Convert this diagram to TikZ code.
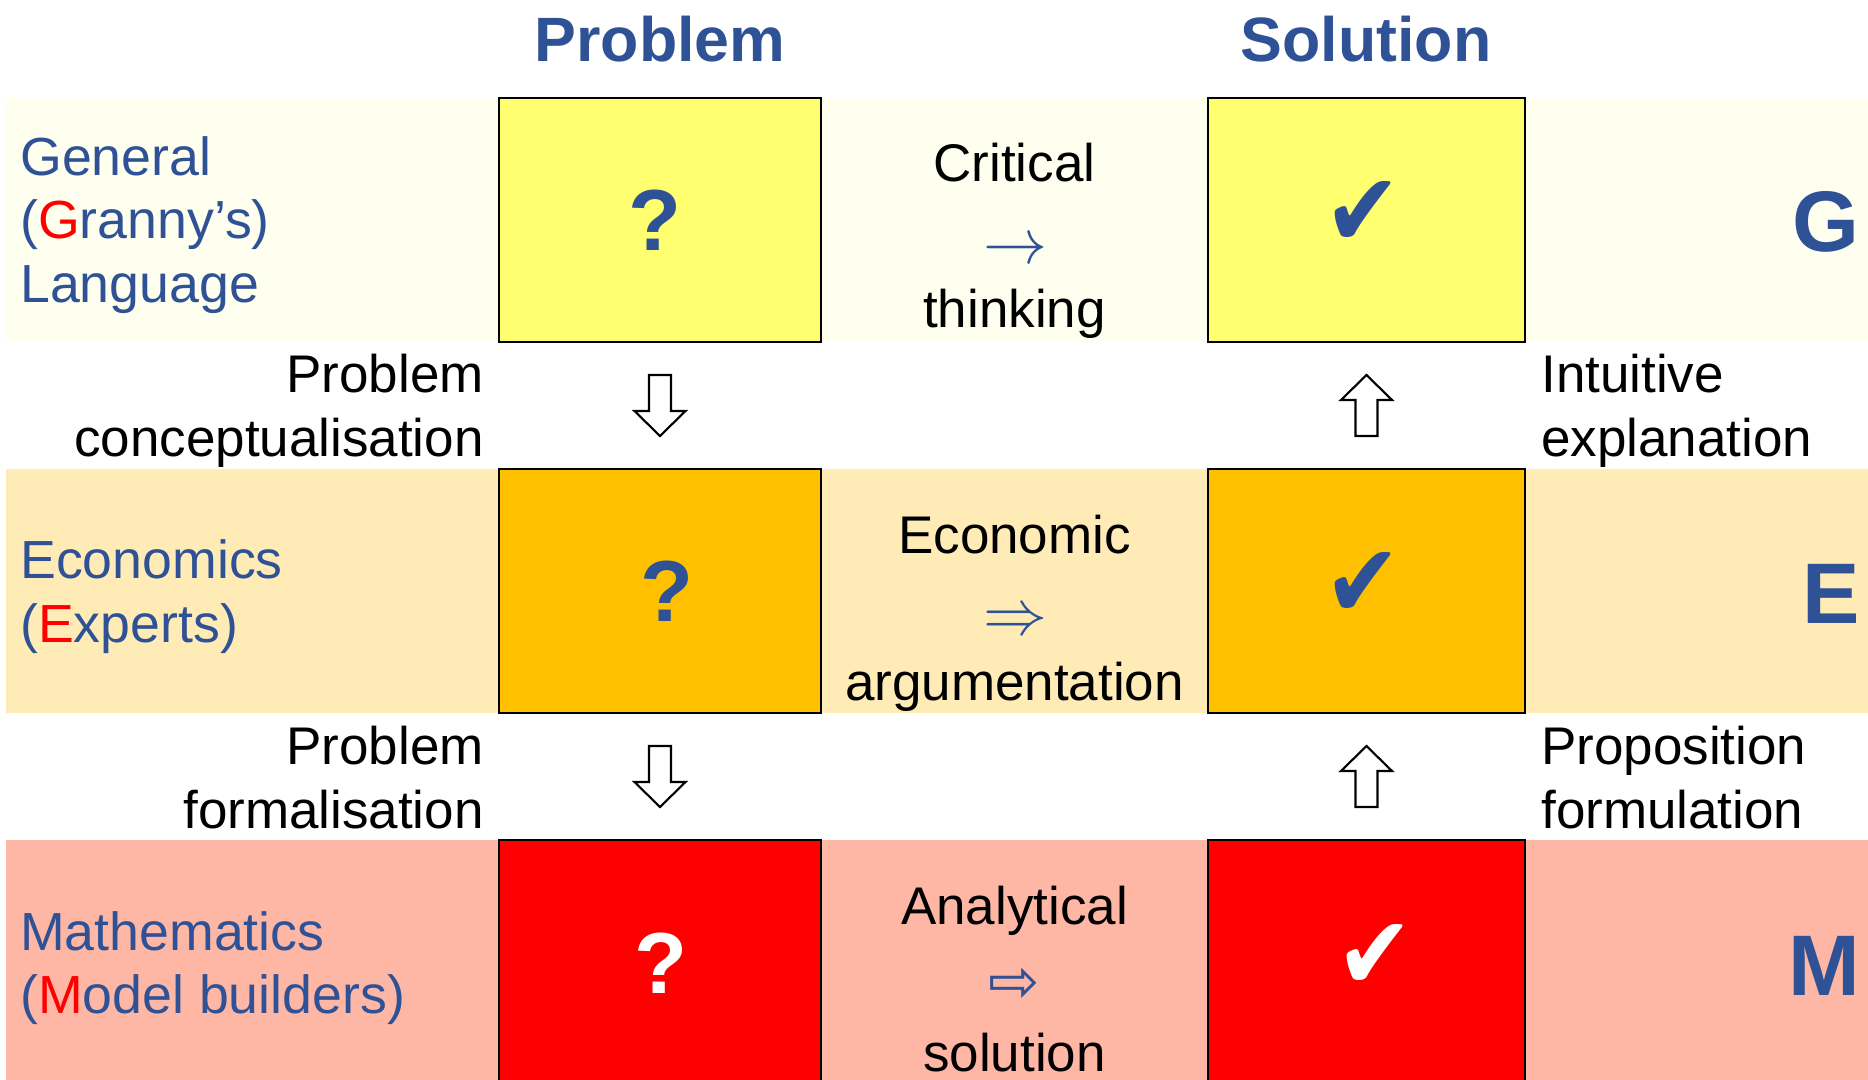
\documentclass[tikz,border=0pt]{standalone}
\usepackage{fontspec}
\setmainfont{Liberation Sans}
\newfontfamily\djv{DejaVu Sans}
\usetikzlibrary{calc}
\definecolor{myblue}{HTML}{2F5296}
\definecolor{bandG}{HTML}{FFFFF0}
\definecolor{bandE}{HTML}{FFEBB5}
\definecolor{bandM}{HTML}{FFB7A5}
\definecolor{boxG}{HTML}{FFFF70}
\definecolor{boxE}{HTML}{FFC000}
\definecolor{boxM}{HTML}{FF0000}
\tikzset{
  txt/.style={font=\fontsize{39.75pt}{48pt}\selectfont, inner sep=0pt, text=black},
  lab/.style={font=\fontsize{40.25pt}{48pt}\selectfont, inner sep=0pt, text=myblue},
  head/.style={font=\fontsize{47pt}{56pt}\selectfont\bfseries, text=myblue, inner sep=0pt},
  big/.style={font=\fontsize{64.5pt}{70pt}\selectfont\bfseries, text=myblue, inner sep=0pt},
  qm/.style={font=\fontsize{65pt}{70pt}\selectfont\bfseries, inner sep=0pt},
  ck/.style={font=\fontsize{69pt}{72pt}\djv, inner sep=0pt},
  marr/.style={text=myblue, inner sep=0pt},
  cell/.style={draw=black, line width=1.5pt, minimum height=183pt, inner sep=0pt},
  hollowarrow/.pic={
    \draw[line width=1.6pt, fill=white, line join=miter]
      (-11,-30.5) -- (11,-30.5) -- (11,5.5) -- (25.5,5.5) -- (0,30.5)
      -- (-25.5,5.5) -- (-11,5.5) -- cycle;
  }
}
\begin{document}
\begin{tikzpicture}[x=0.75pt,y=-0.75pt]
\useasboundingbox (0,0) rectangle (1868,1080);
\fill[white] (0,0) rectangle (1868,1080);
% bands
\fill[bandG] (6,98) rectangle (1868,342);
\fill[bandE] (6,469) rectangle (1868,713);
\fill[bandM] (6,840) rectangle (1868,1084);
% headers
\node[head, anchor=base] (hP) at (660,62) {Problem};
\node[head, anchor=base] (hS) at (1366,62) {Solution};
% boxes
\node[cell, fill=boxG, minimum width=241.5pt] (pG) at (660,220) {};
\node[cell, fill=boxE, minimum width=241.5pt] (pE) at (660,591) {};
\node[cell, fill=boxM, minimum width=241.5pt] (pM) at (660,962) {};
\node[cell, fill=boxG, minimum width=237.75pt] (sG) at (1366.5,220) {};
\node[cell, fill=boxE, minimum width=237.75pt] (sE) at (1366.5,591) {};
\node[cell, fill=boxM, minimum width=237.75pt] (sM) at (1366.5,962) {};
% question marks
\node[qm, text=myblue] (qG) at (655,220.5) {?};
\node[qm, text=myblue] (qE) at (667,591.5) {?};
\node[qm, text=white] (qM) at (661,963.5) {?};
% checks
\node[ck, text=myblue] (cG) at (1363,214) {\scalebox{1}[1.12]{✔}};
\node[ck, text=myblue] (cE) at (1363,585) {\scalebox{1}[1.12]{✔}};
\node[ck, text=white] (cM) at (1375,957) {\scalebox{1}[1.12]{✔}};
% left labels
\node[lab, anchor=base west] (lG1) at (20,176) {General};
\node[lab, anchor=base west] (lG2) at (20,239) {(\textcolor{red}{G}ranny’s)};
\node[lab, anchor=base west] (lG3) at (20,303) {Language};
\node[lab, anchor=base west] (lE1) at (20,578) {Economics};
\node[lab, anchor=base west] (lE2) at (20,642) {(\textcolor{red}{E}xperts)};
\node[lab, anchor=base west] (lM1) at (20,950) {Mathematics};
\node[lab, anchor=base west] (lM2) at (20,1013) {(\textcolor{red}{M}odel builders)};
% middle column
\node[txt, anchor=base] (mG1) at (1014.5,182) {Critical};
\node[marr] (mG2) at (1015,252) {\scalebox{4.8}{$\rightarrow$}};
\node[txt, anchor=base] (mG3) at (1014.5,328) {thinking};
\node[txt, anchor=base] (mE1) at (1014.5,553) {Economic};
\node[marr] (mE2) at (1015,623) {\scalebox{4.8}{$\Rightarrow$}};
\node[txt, anchor=base] (mE3) at (1014.5,700) {argumentation};
\node[txt, anchor=base] (mM1) at (1014.5,924) {Analytical};
\node[marr, font=\fontsize{46pt}{50pt}\djv] (mM2) at (1014.5,985) {⇨};
\node[txt, anchor=base] (mM3) at (1014.5,1071) {solution};
% right letters
\node[big, anchor=base east] (rG) at (1860,252) {G};
\node[big, anchor=base east] (rE) at (1860,623) {E};
\node[big, anchor=base east] (rM) at (1860,995) {M};
% gap labels
\node[txt, anchor=base east] (g1a) at (484,393) {Problem};
\node[txt, anchor=base east] (g1b) at (484,457) {conceptualisation};
\node[txt, anchor=base east] (g2a) at (484,764) {Problem};
\node[txt, anchor=base east] (g2b) at (484,828) {formalisation};
\node[txt, anchor=base west] (r1a) at (1541,393) {Intuitive};
\node[txt, anchor=base west] (r1b) at (1541,457) {explanation};
\node[txt, anchor=base west] (r2a) at (1541,764) {Proposition};
\node[txt, anchor=base west] (r2b) at (1541,828) {formulation};
% hollow arrows
\coordinate (d1) at ($(pG.south)!0.5!(pE.north)$);
\coordinate (d2) at ($(pE.south)!0.5!(pM.north)$);
\coordinate (u1) at ($(sG.south)!0.5!(sE.north)$);
\coordinate (u2) at ($(sE.south)!0.5!(sM.north)$);
\pic at (d1) {hollowarrow};
\pic at (d2) {hollowarrow};
\pic[rotate=180] at (u1) {hollowarrow};
\pic[rotate=180] at (u2) {hollowarrow};
\end{tikzpicture}
\end{document}
